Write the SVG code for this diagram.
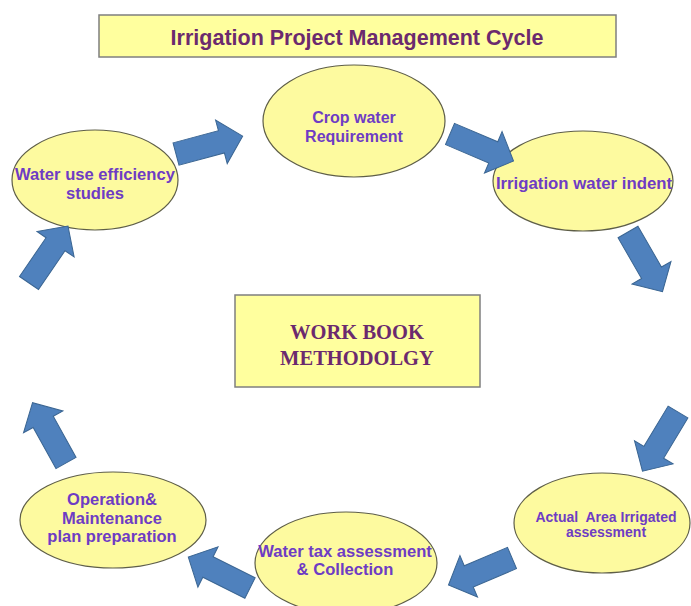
<svg xmlns="http://www.w3.org/2000/svg" width="691" height="606" viewBox="0 0 691 606">
<defs>
<style>
.box{fill:#FFFF9E;stroke:#7F7F7F;stroke-width:1.5}
.node{fill:#FDFA9F;stroke:#5E5E48;stroke-width:1.2}
.t{font-family:"Liberation Sans",Arial,sans-serif;font-weight:bold;fill:#6E3CC4;text-anchor:middle;white-space:pre}
.title{font-family:"Liberation Sans",Arial,sans-serif;font-weight:bold;fill:#6B2A6E;text-anchor:middle;font-size:21.5px}
.serif{font-family:"Liberation Serif","Times New Roman",serif;font-weight:bold;fill:#6B2A6E;text-anchor:middle;font-size:20.5px}
.arr{fill:#4F81BD;stroke:#3A6592;stroke-width:1}
</style>
<polygon id="ar" points="0,-11.5 47,-11.5 47,-22.5 69,0 47,22.5 47,11.5 0,11.5"/>
</defs>
<rect width="691" height="606" fill="#FFFFFF"/>
<g id="title">
<rect class="box" x="99" y="15" width="517" height="42"/>
<text class="title" x="357" y="45">Irrigation Project Management Cycle</text>
</g>
<g id="center">
<rect class="box" x="235" y="295" width="245" height="92"/>
<text class="serif" x="357" y="339">WORK BOOK</text>
<text class="serif" x="357" y="365">METHODOLGY</text>
</g>
<g id="crop">
<ellipse class="node" cx="354" cy="121" rx="91" ry="56"/>
<text class="t" x="354" y="123" font-size="16">Crop water</text>
<text class="t" x="354" y="142" font-size="16">Requirement</text>
</g>
<g id="indent">
<ellipse class="node" cx="583" cy="181" rx="90" ry="50"/>
<text class="t" x="584" y="189" font-size="16.8">Irrigation water indent</text>
</g>
<g id="actual">
<ellipse class="node" cx="602" cy="523" rx="88" ry="50"/>
<text class="t" x="606" y="522" font-size="14" xml:space="preserve">Actual  Area Irrigated</text>
<text class="t" x="606" y="537" font-size="14">assessment</text>
</g>
<g id="tax">
<ellipse class="node" cx="346" cy="563" rx="91" ry="51"/>
<text class="t" x="345" y="557" font-size="16.6">Water tax assessment</text>
<text class="t" x="345" y="575" font-size="16.6">&amp; Collection</text>
</g>
<g id="om">
<ellipse class="node" cx="113" cy="520" rx="93" ry="48"/>
<text class="t" x="112" y="505" font-size="16.5">Operation&amp;</text>
<text class="t" x="112" y="524" font-size="16.5">Maintenance</text>
<text class="t" x="112" y="542" font-size="16.5">plan preparation</text>
</g>
<g id="wue">
<ellipse class="node" cx="95" cy="180" rx="83" ry="50"/>
<text class="t" x="95" y="180" font-size="16.6">Water use efficiency</text>
<text class="t" x="95" y="199" font-size="16.6">studies</text>
</g>
<g id="connectors">
<use href="#ar" class="arr" transform="translate(176,154) rotate(-15)"/>
<use href="#ar" class="arr" transform="translate(450,134) rotate(23)"/>
<use href="#ar" class="arr" transform="translate(628,232) rotate(60)"/>
<use href="#ar" class="arr" transform="translate(678,412) rotate(121)"/>
<use href="#ar" class="arr" transform="translate(512,558) rotate(157)"/>
<use href="#ar" class="arr" transform="translate(250,588) rotate(206.6)"/>
<use href="#ar" class="arr" transform="translate(66,463) rotate(-119)"/>
<use href="#ar" class="arr" transform="translate(29,283) rotate(-55.6)"/>
</g>
</svg>
